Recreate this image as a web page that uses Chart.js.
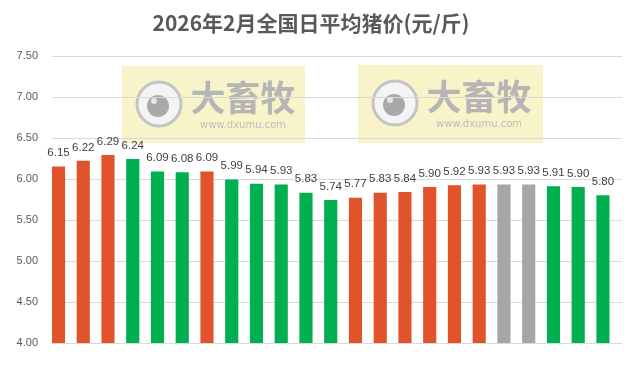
<!DOCTYPE html>
<html>
<head>
<meta charset="utf-8">
<script src="https://cdn.jsdelivr.net/npm/chart.js@4"></script>
<style>
  body { margin: 0; background: #fff; }
  #wrap { width: 644px; height: 365px; }
</style>
</head>
<body>
<div id="wrap"><canvas id="myChart" width="644" height="365"></canvas></div>
<script>
// data
const days = ["2/1","2/2","2/3","2/4","2/5","2/6","2/7","2/8","2/9","2/10","2/11","2/12",
              "2/13","2/14","2/15","2/16","2/17","2/18","2/19","2/20","2/21","2/22","2/23"];
const prices = [6.15, 6.22, 6.29, 6.24, 6.09, 6.08, 6.09, 5.99, 5.94, 5.93, 5.83, 5.74,
                5.77, 5.83, 5.84, 5.90, 5.92, 5.93, 5.93, 5.93, 5.91, 5.90, 5.80];
// u = up (red), d = down (green), f = flat (gray)
const trend = ["u","u","u","d","d","d","u","d","d","d","d","d",
               "u","u","u","u","u","u","f","f","d","d","d"];
const yTicks = [4.00, 4.50, 5.00, 5.50, 6.00, 6.50, 7.00, 7.50];

const trendColors = { u: "#E0532B", d: "#00B050", f: "#A6A6A6" };

// watermark boxes behind the plot
const watermark = {
    id: "watermark",
    beforeDraw(chart) {
        const ctx = chart.ctx;
        const boxes = [[122, 66, 183, 77], [358, 65, 185, 78]];
        ctx.save();
        boxes.forEach(b => {
            const x = b[0], y = b[1], w = b[2], h = b[3];
            ctx.fillStyle = "#F8F3C8";
            ctx.fillRect(x, y, w, h);
            const cx = x + 37, cy = y + 38;
            ctx.beginPath();
            ctx.arc(cx, cy, 22, 0, Math.PI * 2);
            ctx.fillStyle = "#F4F4F4";
            ctx.fill();
            ctx.lineWidth = 3;
            ctx.strokeStyle = "#C4C4C4";
            ctx.stroke();
            ctx.beginPath();
            ctx.arc(cx - 1, cy + 2, 11, 0, Math.PI * 2);
            ctx.fillStyle = "#A9A9A9";
            ctx.fill();
            ctx.beginPath();
            ctx.arc(cx - 5, cy - 3, 3, 0, Math.PI * 2);
            ctx.fillStyle = "#E6E6E6";
            ctx.fill();
            ctx.fillStyle = "#B5B5B5";
            ctx.textAlign = "center";
            ctx.textBaseline = "middle";
            ctx.font = "bold 35px 'Noto Sans CJK SC'";
            ctx.fillText("大畜牧", x + 121, y + 32);
            ctx.font = "10px 'DejaVu Sans'";
            ctx.fillStyle = "#BDBDBD";
            ctx.fillText("www.dxumu.com", x + 121, y + 59);
        });
        ctx.restore();
    }
};

// value labels above the bars
const barLabels = {
    id: "barLabels",
    afterDatasetsDraw(chart) {
        const ctx = chart.ctx;
        const meta = chart.getDatasetMeta(0);
        ctx.save();
        ctx.font = "11.5px 'Liberation Sans'";
        ctx.fillStyle = "#404040";
        ctx.textAlign = "center";
        ctx.textBaseline = "bottom";
        meta.data.forEach((bar, i) => {
            ctx.fillText(prices[i].toFixed(2), bar.x, bar.y - 8);
        });
        ctx.restore();
    }
};

// day index on a linear x axis so the bars can sit off-centre like the original
const points = prices.map((v, i) => ({ x: i, y: v }));

const ctx = document.getElementById('myChart').getContext('2d');
const myChart = new Chart(ctx, {
    type: "bar",
    data: {
        datasets: [{
            label: "全国日平均猪价",
            data: points,
            backgroundColor: trend.map(t => trendColors[t]),
            barThickness: 12.5,
            borderWidth: 0
        }]
    },
    options: {
        responsive: false,
        animation: false,
        layout: { padding: { left: 0, right: 22, top: 0, bottom: 22 } },
        plugins: {
            legend: { display: false },
            tooltip: { enabled: false },
            title: {
                display: true,
                text: "2026年2月全国日平均猪价(元/斤)",
                color: "#595959",
                font: { family: "'Noto Sans CJK SC'", size: 21, weight: "bold" },
                padding: { top: 10, bottom: 21 }
            }
        },
        scales: {
            x: { type: "linear", display: false, offset: false, min: -0.263, max: 22.77 },
            y: {
                min: 4,
                max: 7.5,
                afterBuildTicks: (s) => { s.ticks = yTicks.map(v => ({ value: v })); },
                afterFit: (s) => { s.width = 52; },
                ticks: {
                    color: "#595959",
                    font: { family: "'Liberation Sans'", size: 11 },
                    padding: 14,
                    callback: (v) => Number(v).toFixed(2)
                },
                grid: { color: "#D9D9D9", drawTicks: false },
                border: { display: false }
            }
        }
    },
    plugins: [watermark, barLabels]
});
</script>
</body>
</html>
